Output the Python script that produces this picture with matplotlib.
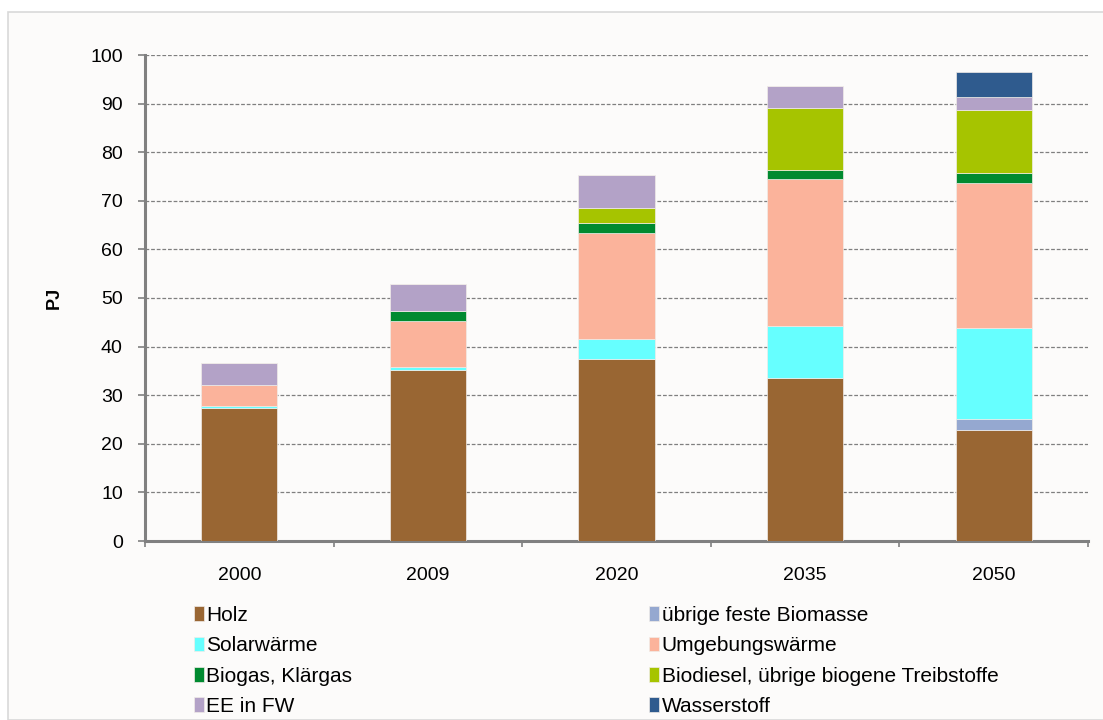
import matplotlib.pyplot as plt
from matplotlib.patches import Rectangle
import numpy as np

plt.rcParams['font.family'] = ['Liberation Sans', 'DejaVu Sans']

years = ["2000", "2009", "2020", "2035", "2050"]

holz = [27.4, 35.2, 37.4, 33.6, 22.8]
uebrige = [0.0, 0.0, 0.0, 0.0, 2.4]
solar = [0.4, 0.7, 4.1, 10.6, 18.7]
umgebung = [4.4, 9.4, 21.8, 30.3, 29.8]
biogas = [0.0, 2.1, 2.2, 1.8, 2.1]
biodiesel = [0.0, 0.0, 3.1, 12.8, 12.9]
ee_fw = [4.5, 5.4, 6.7, 4.5, 2.7]
wasserstoff = [0.0, 0.0, 0.0, 0.0, 5.0]

series = [
    ("Holz", holz, "#996633"),
    ("übrige feste Biomasse", uebrige, "#95a8d0"),
    ("Solarwärme", solar, "#66ffff"),
    ("Umgebungswärme", umgebung, "#fbb39b"),
    ("Biogas, Klärgas", biogas, "#008a30"),
    ("Biodiesel, übrige biogene Treibstoffe", biodiesel, "#a6c400"),
    ("EE in FW", ee_fw, "#b3a2c7"),
    ("Wasserstoff", wasserstoff, "#2f5b8e"),
]

bg = "#fcfbfa"
fig = plt.figure(figsize=(11.03, 7.2), dpi=100, facecolor="white")
fig.patches.append(Rectangle((8 / 1103, 0), 1.0, 1 - 12 / 720, transform=fig.transFigure,
                             facecolor=bg, edgecolor="#d9d9d9", linewidth=1.2, zorder=-10))
ax = fig.add_axes([145 / 1103, 1 - 541 / 720, (1088 - 145) / 1103, (541 - 55) / 720])
ax.set_facecolor(bg)

x = np.arange(len(years))
bottom = np.zeros(len(years))
handles = {}
for name, vals, col in series:
    vals = np.array(vals)
    b = ax.bar(x, vals, width=0.405, bottom=bottom, color=col, edgecolor="#f0ece8",
               linewidth=0.5, label=name, zorder=3)
    handles[name] = b
    bottom += vals

ax.set_ylim(0, 100)
ax.set_xlim(-0.5, 4.46)
ax.set_yticks(range(0, 101, 10))
ax.yaxis.grid(True, linestyle=(0, (3, 1.5)), color="#7f7f7f", linewidth=0.9, zorder=0)
ax.set_xticks(x)
ax.set_xticklabels(years, fontsize=14)
ax.tick_params(axis="x", length=0, pad=19)
ax.set_xticks(np.arange(-0.5, 5, 1), minor=True)
ax.tick_params(axis="x", which="minor", length=4, color="#808080", width=1.2)
ax.tick_params(axis="y", labelsize=14, length=5, color="#808080", width=1.2, pad=11)
for s in ["top", "right"]:
    ax.spines[s].set_visible(False)
for s in ["left", "bottom"]:
    ax.spines[s].set_color("#808080")
    ax.spines[s].set_linewidth(2.2)
ax.set_ylabel("PJ", fontsize=13, fontweight="bold", labelpad=20)

col1 = ["Holz", "Solarwärme", "Biogas, Klärgas", "EE in FW"]
col2 = ["übrige feste Biomasse", "Umgebungswärme",
        "Biodiesel, übrige biogene Treibstoffe", "Wasserstoff"]
leg_kw = dict(loc="upper left", frameon=False, fontsize=15, handlelength=0.48,
              handleheight=0.7, handletextpad=0.12, labelspacing=0.54, borderaxespad=0,
              borderpad=0)
leg1 = fig.legend([handles[n] for n in col1], col1,
                  bbox_to_anchor=(194 / 1103, 1 - 606 / 720), **leg_kw)
leg2 = fig.legend([handles[n] for n in col2], col2,
                  bbox_to_anchor=(649 / 1103, 1 - 606 / 720), **leg_kw)

fig.savefig("out.png", dpi=100, facecolor="white")
